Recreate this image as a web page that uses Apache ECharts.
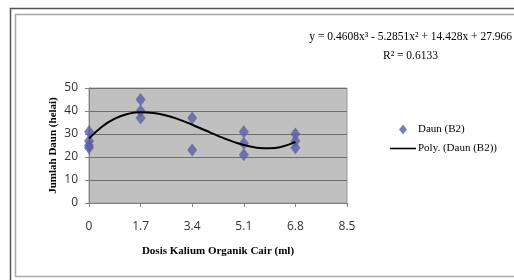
<!DOCTYPE html>
<html>
<head>
<meta charset="utf-8">
<script src="https://cdn.jsdelivr.net/npm/echarts@6/dist/echarts.min.js"></script>
<style>
  html, body { margin: 0; padding: 0; background: #fff; }
  #chart { width: 514px; height: 280px; }
</style>
</head>
<body>
<div id="chart"></div>
<script>
// dosis (ml) and jumlah daun (helai)
var dosis = [0, 0, 0, 0, 1.7, 1.7, 1.7, 3.4, 3.4, 5.1, 5.1, 5.1, 6.8, 6.8, 6.8];
var daun  = [31, 27, 25, 24, 45, 40, 37, 37, 23, 31, 26, 21, 30, 27, 24];

// trendline (poly order 3) as drawn
var trendX = [0, 0.425, 0.85, 1.275, 1.7, 2.125, 2.55, 2.975, 3.4, 3.825, 4.25, 4.675, 5.1, 5.525, 5.95, 6.375, 6.8];
var trendY = [27.97, 33.18, 36.69, 38.73, 39.48, 39.18, 38.03, 36.25, 34.04, 31.62, 29.2, 26.99, 25.21, 24.07, 23.77, 24.54, 26.59];

var xTicks = [0, 1.7, 3.4, 5.1, 6.8, 8.5];

var chart = echarts.init(document.getElementById('chart'));

var serif = '"Liberation Serif", "DejaVu Serif", serif';
var sans = '"Open Sans", "Liberation Sans", sans-serif';

var option = {
  animation: false,
  backgroundColor: '#fff',
  grid: {
    left: 89, top: 88, width: 258, height: 115,
    show: true,
    backgroundColor: '#c0c0c0',
    borderColor: '#9a9a9a',
    borderWidth: 1
  },
  xAxis: {
    type: 'value',
    min: xTicks[0],
    max: xTicks[xTicks.length - 1],
    interval: 1.7,
    name: 'Dosis Kalium Organik Cair (ml)',
    nameLocation: 'middle',
    nameGap: 43,
    nameMoveOverlap: false,
    nameTextStyle: { fontFamily: serif, fontWeight: 'bold', fontSize: 11, color: '#000' },
    axisLine: { show: true, onZero: false, lineStyle: { color: '#808080' } },
    axisTick: { show: true, length: 4, lineStyle: { color: '#808080' } },
    axisLabel: { margin: 18, fontFamily: sans, fontSize: 12, color: '#333',
      formatter: function (v) { return String(Math.round(v * 10) / 10); } },
    splitLine: { show: false }
  },
  yAxis: {
    type: 'value',
    min: 0,
    max: 50,
    interval: 10,
    name: 'Jumlah Daun (helai)',
    nameLocation: 'middle',
    nameGap: 30,
    nameMoveOverlap: false,
    nameTextStyle: { fontFamily: serif, fontWeight: 'bold', fontSize: 11, color: '#000' },
    axisLine: { show: true, lineStyle: { color: '#808080' } },
    axisTick: { show: true, length: 4, lineStyle: { color: '#808080' } },
    axisLabel: { margin: 11, fontFamily: sans, fontSize: 12, color: '#333' },
    splitLine: { show: true, lineStyle: { color: '#6e6e6e', width: 1 } }
  },
  legend: {
    orient: 'vertical',
    left: 385,
    top: 119,
    itemWidth: 26,
    itemHeight: 10,
    itemGap: 8,
    textStyle: { fontFamily: serif, fontSize: 11, color: '#000', padding: [0, 0, 0, -3] },
    data: [
      { name: 'Daun (B2)', icon: 'path://M4,0 L8,5 L4,10 L0,5 Z' },
      { name: 'Poly. (Daun (B2))', icon: 'path://M0,0 L26,0 L26,1.6 L0,1.6 Z' }
    ]
  },
  graphic: [
    { type: 'rect', silent: true, shape: { x: 10.5, y: 8.5, width: 520, height: 280 },
      style: { fill: 'none', stroke: '#555', lineWidth: 1.5 } },
    { type: 'rect', silent: true, shape: { x: 15.5, y: 14.5, width: 520, height: 262 },
      style: { fill: 'none', stroke: '#a8a8a8', lineWidth: 1.5 } },
    { type: 'text', right: 2, top: 31,
      style: {
        text: 'y = 0.4608x\u00b3 - 5.2851x\u00b2 + 14.428x + 27.966',
        fontFamily: serif, fontSize: 11.5, fill: '#000'
      } },
    { type: 'text', left: 383, top: 50,
      style: {
        text: 'R\u00b2 = 0.6133',
        fontFamily: serif, fontSize: 11.5, fill: '#000'
      } }
  ],
  series: [
    {
      name: 'Daun (B2)',
      type: 'scatter',
      symbol: 'diamond',
      symbolSize: [10, 13],
      itemStyle: { color: '#5a5ea4' },
      data: dosis.map(function (x, i) { return [x, daun[i]]; }),
      z: 3
    },
    {
      name: 'Poly. (Daun (B2))',
      type: 'line',
      smooth: true,
      symbol: 'none',
      lineStyle: { color: '#000', width: 2 },
      itemStyle: { color: '#000' },
      data: trendX.map(function (x, i) { return [x, trendY[i]]; }),
      z: 4
    }
  ]
};

chart.setOption(option);
</script>
</body>
</html>
